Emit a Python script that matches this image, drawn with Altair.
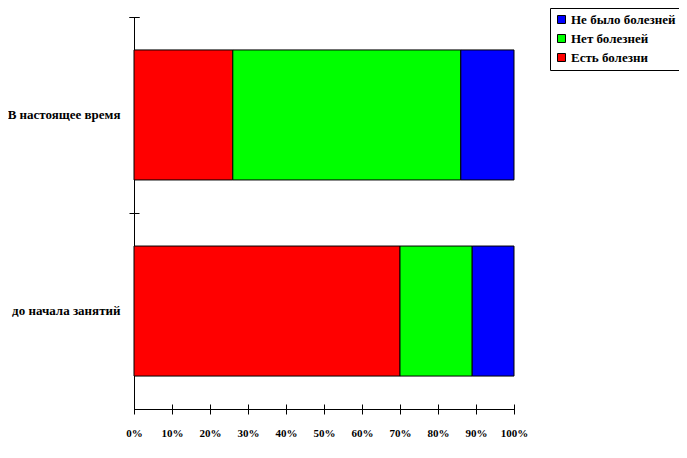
import altair as alt
import pandas as pd

categories = ["В настоящее время", "до начала занятий"]
series = ["Есть болезни", "Нет болезней", "Не было болезней"]
present = [26, 60, 14]
before = [70, 19, 11]
legend_order = ["Не было болезней", "Нет болезней", "Есть болезни"]
legend_colors = ["#0000ff", "#00ff00", "#ff0000"]
tick_values = [0, 0.1, 0.2, 0.3, 0.4, 0.5, 0.6, 0.7, 0.8, 0.9, 1.0]

rows = []
for cat, vals in zip(categories, [present, before]):
    for i, (s, v) in enumerate(zip(series, vals)):
        rows.append({"cat": cat, "series": s, "value": v, "ord": i})
df = pd.DataFrame(rows)

FONT = "Liberation Serif"

yscale = alt.Scale(domain=categories, paddingInner=0.337, paddingOuter=0.168)
xscale = alt.Scale(domain=[0, 1], nice=False)

bars = alt.Chart(df).mark_bar(stroke="black", strokeWidth=1).encode(
    x=alt.X("value:Q", stack="normalize", scale=xscale,
            axis=alt.Axis(orient="bottom", values=tick_values, format=".0%", ticks=False,
                          domain=True, domainColor="black", domainWidth=1, labelFont=FONT,
                          labelFontWeight="bold", labelFontSize=11, labelColor="black",
                          labelPadding=18, labelOverlap=False, labelFlush=False,
                          grid=False, title=None)),
    y=alt.Y("cat:N", sort=categories, scale=yscale,
            axis=alt.Axis(orient="left", ticks=False, domain=True, domainColor="black",
                          labelFont=FONT, labelFontWeight="bold", labelFontSize=13,
                          labelColor="black", labelPadding=14, title=None, labelLimit=200)),
    color=alt.Color("series:N", scale=alt.Scale(domain=legend_order, range=legend_colors),
                    legend=alt.Legend(title=None, orient="none", legendX=416, legendY=-9,
                                      strokeColor="black", padding=5, symbolType="square",
                                      symbolSize=64, symbolStrokeColor="black",
                                      symbolStrokeWidth=1, labelFont=FONT, labelOffset=3,
                                      labelFontWeight="bold", labelFontSize=13,
                                      labelColor="black", rowPadding=5, symbolOpacity=1)),
    order=alt.Order("ord:Q"),
)

ticks_layer = alt.Chart(df).mark_bar(opacity=0).encode(
    x=alt.X("value:Q", stack="normalize", scale=xscale,
            axis=alt.Axis(orient="bottom", values=tick_values, labels=False, domain=False,
                          ticks=True, tickSize=10, offset=-5, tickColor="black",
                          grid=False, title=None)),
    y=alt.Y("cat:N", sort=categories, scale=yscale,
            axis=alt.Axis(orient="left", labels=False, domain=False, ticks=True,
                          tickSize=10, offset=-5, tickColor="black", bandPosition=0,
                          tickOffset=-33, tickExtra=True, grid=False, title=None)),
    order=alt.Order("ord:Q"),
)

chart = alt.layer(bars, ticks_layer).resolve_axis(x="independent", y="independent").properties(
    width=380, height=392,
    background="white",
    autosize=alt.AutoSizeParams(type="none"),
    padding={"left": 126, "top": 9, "right": 165, "bottom": 41},
).configure_view(stroke=None).configure_axis(grid=False)

chart.save("out.html", embed_options={"renderer": "svg", "actions": False})
